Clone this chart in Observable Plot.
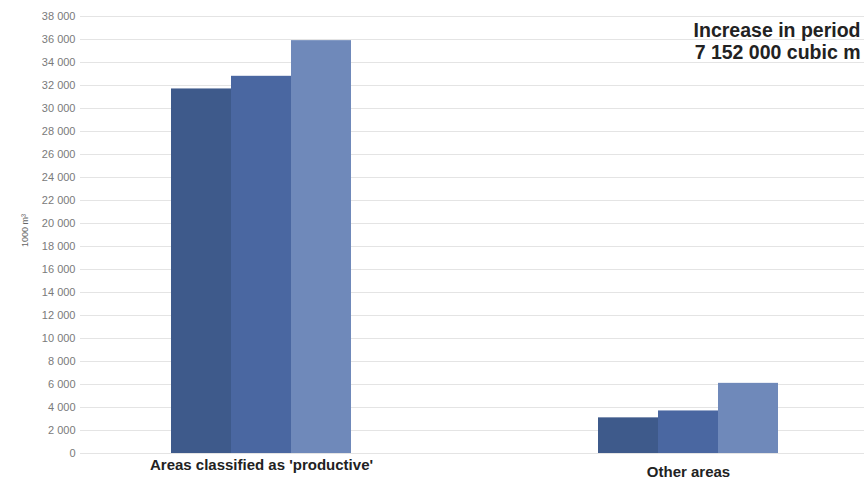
<!DOCTYPE html>
<html>
<head>
<meta charset="utf-8">
<script src="https://cdn.jsdelivr.net/npm/d3@7"></script>
<script src="https://cdn.jsdelivr.net/npm/@observablehq/plot@0.6"></script>
<style>
  html, body { margin: 0; padding: 0; background: #fff; }
  #chart { position: relative; width: 864px; height: 483px; }
  #chart svg { position: absolute; left: 0; top: 0; }
</style>
</head>
<body>
<div id="chart"></div>
<script>
const categories = ["Areas classified as 'productive'", "Other areas"];
const series = ["Period 1", "Period 2", "Period 3"];
const period1 = [31700, 3100];
const period2 = [32800, 3700];
const period3 = [35900, 6100];
const yTicks = [0, 2000, 4000, 6000, 8000, 10000, 12000, 14000, 16000, 18000, 20000,
  22000, 24000, 26000, 28000, 30000, 32000, 34000, 36000, 38000];
const yLabel = "1000 m³";
const annotation = ["Increase in period", "7 152 000 cubic m"];
const colors = ["#3e5a8b", "#4a67a1", "#6f89ba"];

const seriesValues = [period1, period2, period3];
const data = categories.flatMap((c, i) =>
  series.map((s, j) => ({category: c, series: s, value: seriesValues[j][i]})));

const fmt = d => d3.format(",")(d).replace(/,/g, " ");
const font = "'Liberation Sans', Arial, sans-serif";

const common = {
  width: 864,
  height: 483,
  marginTop: 16,
  marginBottom: 30,
  marginLeft: 80,
  marginRight: 0,
  y: {domain: [0, 38000], axis: null}
};

// Background layer: grid, y tick labels, y label and annotation
const back = Plot.plot({
  ...common,
  style: {fontFamily: font, background: "#fff"},
  marks: [
    Plot.ruleY(yTicks, {y: d => d, stroke: "#e4e4e4", strokeWidth: 1}),
    Plot.text(yTicks, {y: d => d, text: d => fmt(d), frameAnchor: "left", dx: -5,
      textAnchor: "end", fontSize: 11, fill: "#7a7a7a"}),
    Plot.text([yLabel], {text: d => d, frameAnchor: "left", dx: -55, dy: 12, rotate: -90,
      fontSize: 9, fill: "#666"}),
    Plot.text([annotation.join("\n")], {text: d => d, frameAnchor: "top-right", dx: -4, dy: 5,
      lineAnchor: "top", lineHeight: 1.12, fontSize: 19.5, fontWeight: "bold", fill: "#222"})
  ]
});

// Foreground layer: faceted grouped bars and category labels
const front = Plot.plot({
  ...common,
  style: {fontFamily: font, background: "transparent", overflow: "visible"},
  fx: {domain: categories, paddingInner: 0.574, paddingOuter: 0.205, align: 0.514, axis: null},
  x: {domain: series, padding: 0, axis: null},
  color: {domain: series, range: colors},
  marks: [
    Plot.barY(data, {fx: "category", x: "series", y: "value", fill: "series"}),
    Plot.text([categories[0]], {fx: d => d, text: d => d, frameAnchor: "bottom", dy: 16,
      fontSize: 15, fontWeight: "bold", fill: "#222"}),
    Plot.text([categories[1]], {fx: d => d, text: d => d, frameAnchor: "bottom", dy: 23,
      fontSize: 15, fontWeight: "bold", fill: "#222"})
  ]
});

const el = document.getElementById("chart");
el.append(back);
el.append(front);
</script>
</body>
</html>
